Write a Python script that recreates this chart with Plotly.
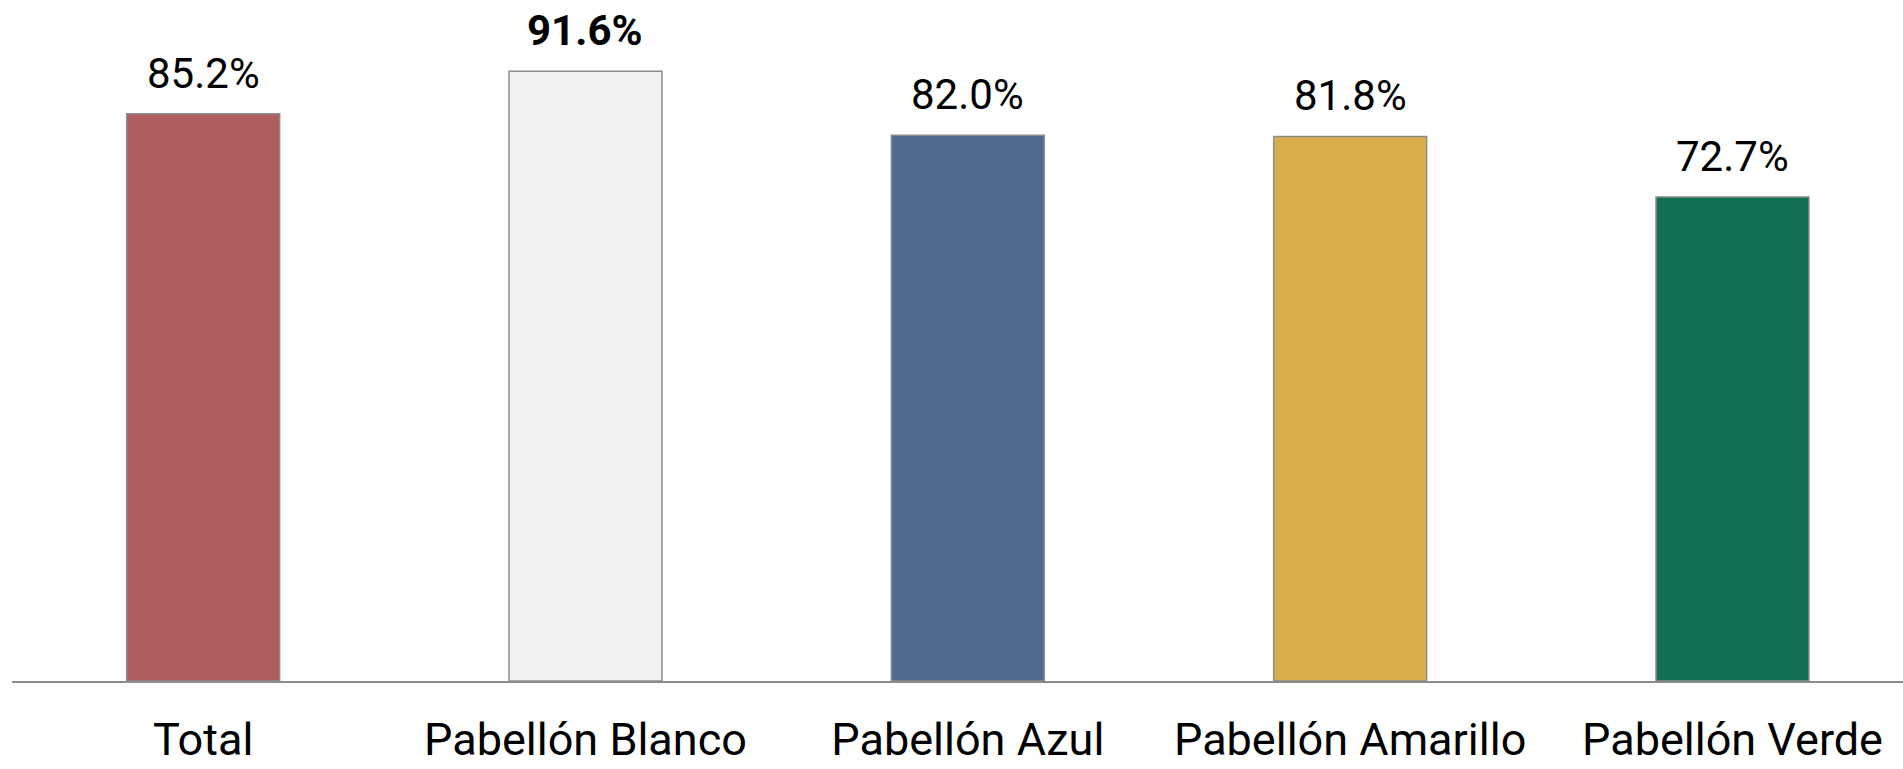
import plotly.graph_objects as go

# Porcentajes por pabellón
categorias = ["Total", "Pabellón Blanco", "Pabellón Azul", "Pabellón Amarillo", "Pabellón Verde"]
valores = [85.2, 91.6, 82.0, 81.8, 72.7]
colores = ["#AE5E5E", "#F2F2F2", "#4D6B90", "#D8AF4A", "#136F53"]
destacado = [False, True, False, False, False]

FONT = "Roboto, 'Open Sans', sans-serif"

fig = go.Figure(
    go.Bar(
        x=categorias,
        y=valores,
        marker=dict(color=colores, line=dict(color="#8C8C8C", width=1.5)),
        width=0.4,
        hoverinfo="skip",
        cliponaxis=False,
    )
)

# Etiquetas de valor sobre cada barra
for cat, val, bold in zip(categorias, valores, destacado):
    txt = f"{val:.1f}%"
    fig.add_annotation(
        x=cat, y=val, xref="x", yref="y",
        text=f"<b>{txt}</b>" if bold else txt,
        showarrow=False, yanchor="bottom", yshift=14,
        font=dict(family=FONT, size=42, color="#000000"),
    )

fig.update_layout(
    width=1903, height=769,
    margin=dict(l=12, r=0, t=0, b=88),
    paper_bgcolor="white", plot_bgcolor="white",
    showlegend=False,
    xaxis=dict(
        range=[-0.5, 4.446],
        automargin=False,
        showline=True, linecolor="#8C8C8C", linewidth=2,
        showgrid=False, zeroline=False,
        ticks="", ticklabelstandoff=18,
        tickfont=dict(family=FONT, size=45, color="#000000"),
    ),
    yaxis=dict(
        range=[0, 102.3], visible=False, showgrid=False, zeroline=False,
        automargin=False,
    ),
)

fig.write_html("out.html")
